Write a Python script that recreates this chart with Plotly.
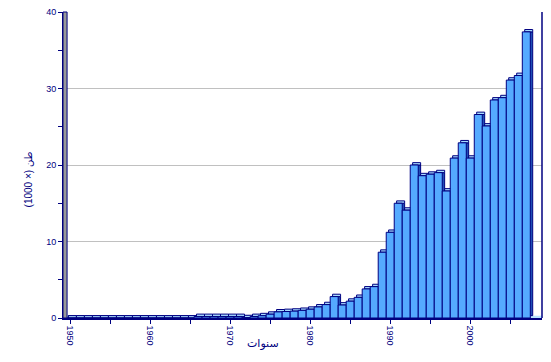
import plotly.graph_objects as go

years = list(range(1950, 2008))
values = [0, 0, 0, 0, 0, 0, 0, 0, 0, 0,          # 1950-1959
          0, 0, 0, 0, 0, 0, 0.2, 0.2, 0.2, 0.2,  # 1960-1969
          0.2, 0.2, 0.05, 0.2, 0.3, 0.5, 0.8, 0.85, 0.9, 1.0,  # 1970-1979
          1.15, 1.45, 1.75, 2.8, 1.7, 2.2, 2.7, 3.8, 4.1, 8.6,  # 1980-1989
          11.2, 15.0, 14.1, 20.0, 18.6, 18.8, 19.0, 16.6, 20.9, 22.9,  # 1990-1999
          20.9, 26.6, 25.1, 28.5, 28.8, 31.1, 31.7, 37.4]  # 2000-2007

y_ticks = [0, 10, 20, 30, 40]
x_ticks = [1950, 1960, 1970, 1980, 1990, 2000]
y_title = "(1000 ×) طن"
x_title = "سنوات"

NAVY = "#000080"
FRONT = "#55aaff"
TOP = "#a8dcff"
SIDE = "#1f4fb4"
s = 0.3    # depth shift in years
d = 0.31   # depth shift in y units

fig = go.Figure()
# side faces
fig.add_trace(go.Bar(x=years, y=[max(v - d, 0) for v in values], base=d,
                     width=1, offset=-0.5 + s,
                     marker=dict(color=SIDE, line=dict(color=NAVY, width=1)),
                     hoverinfo="skip"))
# top faces
fig.add_trace(go.Bar(x=years, y=[d] * len(values), base=values,
                     width=1, offset=-0.5 + s,
                     marker=dict(color=TOP, line=dict(color=NAVY, width=1)),
                     hoverinfo="skip"))
# front faces
fig.add_trace(go.Bar(x=years, y=values, width=1, offset=-0.5,
                     marker=dict(color=FRONT, line=dict(color=NAVY, width=1)),
                     hoverinfo="skip"))

font = dict(family="Arial, Liberation Sans, DejaVu Sans", color=NAVY, size=9)

fig.update_layout(
    width=551, height=362,
    margin=dict(l=63, r=9, t=7, b=44),
    paper_bgcolor="white", plot_bgcolor="white",
    barmode="overlay", showlegend=False,
    font=font,
    xaxis=dict(range=[1949.125, 2008.96], tickvals=x_ticks,
               ticktext=[str(t) for t in x_ticks], tickangle=90,
               ticks="outside", ticklen=4, tickcolor=NAVY, tickwidth=1,
               minor=dict(dtick=5, tick0=1950, ticks="outside", ticklen=4,
                          tickcolor=NAVY, showgrid=False),
               showline=True, linecolor=NAVY, linewidth=1.5,
               showgrid=False, zeroline=False, tickfont=font),
    yaxis=dict(range=[0, 40], tickvals=y_ticks,
               ticktext=[str(t) for t in y_ticks],
               ticks="outside", ticklen=4, tickcolor=NAVY, tickwidth=1,
               minor=dict(dtick=5, tick0=0, ticks="outside", ticklen=4,
                          tickcolor=NAVY, showgrid=False),
               showline=True, linecolor=NAVY, linewidth=1,
               showgrid=True, gridcolor="#c0c0c0", gridwidth=1,
               zeroline=False, tickfont=font),
    shapes=[
        # floor band
        dict(type="rect", xref="x domain", yref="y", x0=0, x1=1, y0=0, y1=d,
             fillcolor="#b8e4ff", line=dict(width=0), layer="below"),
        # left gray wall
        dict(type="rect", xref="x domain", yref="y domain", x0=0.0, x1=0.0085,
             y0=0, y1=1, fillcolor="#999999", line=dict(color=NAVY, width=1)),
        # right edge line
        dict(type="line", xref="x domain", yref="y domain", x0=1, x1=1,
             y0=0, y1=1, line=dict(color=NAVY, width=1.5)),
    ],
    annotations=[
        dict(text=y_title, xref="paper", yref="paper", x=-0.073, y=0.453,
             xanchor="center", yanchor="middle",
             textangle=-90, showarrow=False,
             font=dict(family="Arial, DejaVu Sans", color=NAVY, size=10)),
        dict(text=x_title, xref="paper", yref="paper", x=0.418, y=-0.084,
             xanchor="center", yanchor="middle",
             showarrow=False,
             font=dict(family="Arial, DejaVu Sans", color=NAVY, size=11)),
    ],
)

fig.write_html("out.html")
